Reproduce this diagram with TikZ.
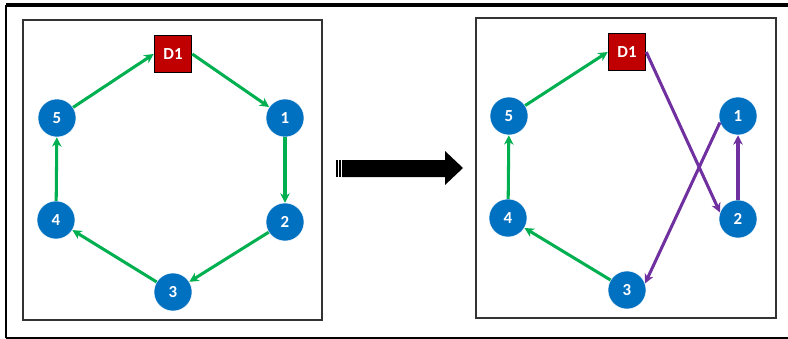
\documentclass[tikz,border=0pt]{standalone}
\usepackage{fontspec}
\setmainfont{Carlito}
\usetikzlibrary{arrows.meta}

\definecolor{nodeblue}{HTML}{0070C0}
\definecolor{boxred}{HTML}{C00000}
\definecolor{ringgreen}{HTML}{00B050}
\definecolor{swappurple}{HTML}{7030A0}

\tikzset{
  station/.style={circle, fill=nodeblue, draw=white, line width=0.4pt, minimum size=1.14cm,
    inner sep=0pt, text=white, font=\bfseries\Large},
  depot/.style={rectangle, fill=boxred, draw=black, line width=1pt, minimum width=1.12cm,
    minimum height=1.1cm, inner sep=0pt, text=white, font=\bfseries\Large},
  ring/.style={draw=ringgreen, line width=2.6pt, -{Stealth[length=8pt,width=8pt,inset=2.5pt]}},
  swap/.style={draw=swappurple, line width=2.6pt, -{Stealth[length=8pt,width=8pt,inset=2.5pt]}},
  panel/.style={draw=black!80, line width=1.3pt}
}

\begin{document}
\begin{tikzpicture}[x=0.03cm, y=-0.03cm]
      \useasboundingbox (0,0) rectangle (788,339);
      % outer frame
      \draw[line width=2.6pt] (6,5) -- (790,5);
      \draw[line width=1.8pt] (6,5) -- (6,338);
      \draw[line width=1pt] (6,338) -- (790,338);

      % panels
      \draw[panel] (23,20) rectangle (322,320);
      \draw[panel] (476,18) rectangle (776,318);

      % left: before
      \node[depot] (D1L) at (173,54) {D1};
      \node[station] (N1L) at (285,118) {1};
      \node[station] (N2L) at (285,222) {2};
      \node[station] (N3L) at (173,292) {3};
      \node[station] (N4L) at (56,220) {4};
      \node[station] (N5L) at (57,118) {5};

      \draw[ring] (D1L.east) to (N1L);
      \draw[ring] (N1L) to (N2L);
      \draw[ring] (N2L) to (N3L);
      \draw[ring] (N3L) to (N4L);
      \draw[ring] (N4L) to (N5L);
      \draw[ring] (N5L) to (D1L.west);

      % right: after
      \node[depot] (D1R) at (627,52) {D1};
      \node[station] (N1R) at (738,116) {1};
      \node[station] (N2R) at (738,219) {2};
      \node[station] (N3R) at (627,290) {3};
      \node[station] (N4R) at (508,218) {4};
      \node[station] (N5R) at (509,116) {5};

      \draw[ring] (N5R) to (D1R.west);
      \draw[ring] (N4R) to (N5R);
      \draw[ring] (N3R) to (N4R);
      \draw[swap] (D1R.east) to (N2R.160);
      \draw[swap] (N2R) to (N1R);
      \draw[swap] (N1R.200) to (N3R.20);

      % big arrow
      \fill (342,160) -- (445,160) -- (445,151) -- (463,168) -- (445,185)
            -- (445,177) -- (342,177) -- cycle;
      \fill (336,160) rectangle (337.5,177);
      \fill (339,160) rectangle (340.5,177);
    \end{tikzpicture}
\end{document}
